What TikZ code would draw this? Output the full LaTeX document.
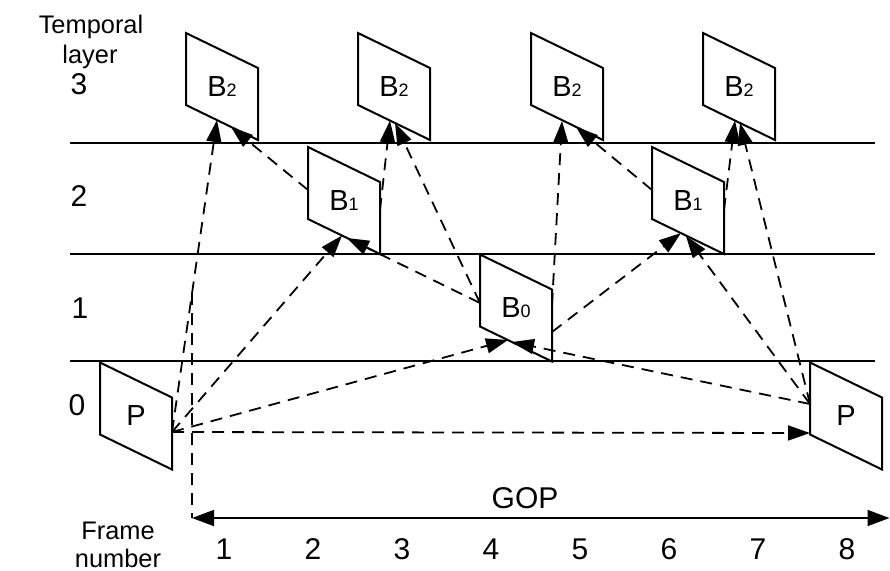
\documentclass[tikz,border=0pt]{standalone}
\usepackage{fontspec}
\setmainfont{Liberation Sans}
\usetikzlibrary{arrows.meta,calc}
% small index digit that sits on the baseline of the frame letter
\newcommand\framesub[1]{{\fontsize{9}{10}\selectfont #1}}
\begin{document}
\begin{tikzpicture}[x=0.5pt,y=-0.5pt,
  layerline/.style={line width=0.8pt},
  frameedge/.style={line width=1pt, line join=miter},
  gopframe/.style={inner sep=0pt, font=\fontsize{14.5}{16}\selectfont},
  pred/.style={line width=0.9pt, dash pattern=on 6pt off 4pt,
    -{Triangle[length=11pt,width=7.5pt]}},
  guide/.style={line width=0.9pt, dash pattern=on 6pt off 4pt},
  span/.style={line width=0.85pt, {Triangle[length=11pt,width=8pt]}-{Triangle[length=11pt,width=8pt]}},
  numlabel/.style={inner sep=0pt, font=\fontsize{15}{17}\selectfont},
  caption/.style={inner sep=0pt, anchor=base, font=\fontsize{12.7}{15}\selectfont},
]
\useasboundingbox (0,0) rectangle (890,570);

% temporal layer boundaries
\draw[layerline] (70,143) -- (875,143);
\draw[layerline] (70,254) -- (875,254);
\draw[layerline] (70,361) -- (875,361);

% axis captions
\node[caption] (tl1) at (91,33) {Temporal};
\node[caption] (tl2) at (90,63) {layer};
\node[caption] (fn1txt) at (118,539) {Frame};
\node[caption] (fn2txt) at (118,567) {number};

% layer indices
\node[numlabel] (row3) at (79,84.5) {3};
\node[numlabel] (row2) at (79,196.5) {2};
\node[numlabel] (row1) at (80,308) {1};
\node[numlabel] (row0) at (77,405) {0};

% frame indices
\foreach \k in {1,...,8}
  \node[numlabel] (fn\k) at ({224+89*(\k-1)},549) {\k};

% pictures of the group
\node[gopframe] (P0)  at (136,416)   {P};
\node[gopframe] (P8)  at (846,416)   {P};
\node[gopframe] (B0)  at (516,308)   {B\framesub{0}};
\node[gopframe] (B1a) at (344,200.5) {B\framesub{1}};
\node[gopframe] (B1b) at (688,200.5) {B\framesub{1}};
\node[gopframe] (B2a) at (222,86.5)  {B\framesub{2}};
\node[gopframe] (B2b) at (394,86.5)  {B\framesub{2}};
\node[gopframe] (B2c) at (567,86.5)  {B\framesub{2}};
\node[gopframe] (B2d) at (739,86.5)  {B\framesub{2}};

% slanted outline around every picture
\foreach \f in {P0,P8,B0,B1a,B1b,B2a,B2b,B2c,B2d}
  \draw[frameedge] ($(\f)+(-36,-53.5)$) -- ($(\f)+(36,-18.5)$)
    -- ($(\f)+(36,53.5)$) -- ($(\f)+(-36,18.5)$) -- cycle;

% prediction references
\draw[pred] ($(P0)+(36,16)$) -- ($(P8)+(-36,17)$);
\draw[pred] ($(P0)+(36,16)$) -- ($(B0)+(-8,32)$);
\draw[pred] ($(P8)+(-36,-12)$) -- ($(B0)+(-4,34)$);
\draw[pred] ($(P0)+(36,16)$) -- ($(B1a)+(-2,35)$);
\draw[pred] ($(B0)+(-36,-5)$) -- ($(B1a)+(3,37.5)$);
\draw[pred] ($(B0)+(36,24)$) -- ($(B1b)+(-7,32.5)$);
\draw[pred] ($(P8)+(-36,-12)$) -- ($(B1b)+(-2,35.5)$);
\draw[pred] ($(P0)+(36,16)$) -- ($(B2a)+(-5,33.5)$);
\draw[pred] ($(B1a)+(-36,-10.5)$) -- ($(B2a)+(9,40.5)$);
\draw[pred] ($(B1a)+(36,9.5)$) -- ($(B2b)+(-4,34)$);
\draw[pred] ($(B0)+(-36,-5)$) -- ($(B2b)+(1,36.5)$);
\draw[pred] ($(B0)+(36,-3)$) -- ($(B2c)+(-5,34.5)$);
\draw[pred] ($(B1b)+(-36,-10.5)$) -- ($(B2c)+(9,40.5)$);
\draw[pred] ($(B1b)+(36,9.5)$) -- ($(B2d)+(-4,34)$);
\draw[pred] ($(P8)+(-36,-12)$) -- ($(B2d)+(1,36.5)$);

% group of pictures span
\coordinate (gopTop) at (192,293);
\coordinate (gopL) at (192,518);
\coordinate (gopR) at (889.5,518);
\draw[guide] (gopTop) -- (gopL);
\draw[span] (gopL) -- (gopR);
\node[numlabel] (gop) at (525,498) {GOP};
\end{tikzpicture}
\end{document}
